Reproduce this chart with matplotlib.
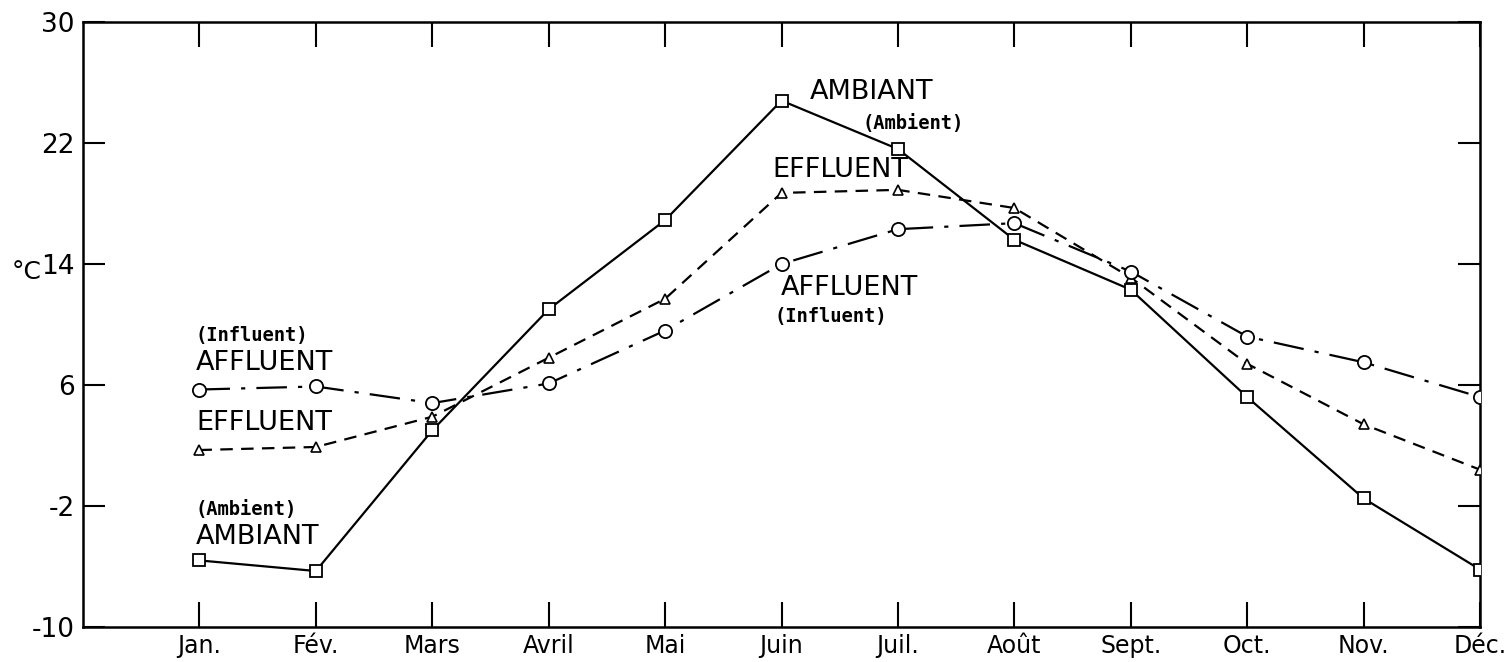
import matplotlib
matplotlib.use("Agg")
import matplotlib.pyplot as plt

months = ["Jan.", "Fév.", "Mars", "Avril", "Mai", "Juin", "Juil.", "Août", "Sept.", "Oct.", "Nov.", "Déc."]
ambiant = [-5.6, -6.3, 3.0, 11.0, 16.9, 24.8, 21.6, 15.6, 12.3, 5.2, -1.5, -6.2]
effluent = [1.7, 1.9, 3.9, 7.8, 11.7, 18.7, 18.9, 17.7, 13.1, 7.4, 3.4, 0.4]
affluent = [5.7, 5.9, 4.8, 6.1, 9.6, 14.0, 16.3, 16.7, 13.5, 9.2, 7.5, 5.2]
yticks = [-10, -2, 6, 14, 22, 30]
ytick_labels = ["-10", "-2", "6", "14", "22", "30"]

plt.rcParams['lines.scale_dashes'] = False
fig = plt.figure(figsize=(15.07, 6.62), dpi=100)
ax = fig.add_axes([0.0551, 0.0529, 0.9821 - 0.0551, 0.9668 - 0.0529])

x = list(range(len(months)))
lw = 1.6
ax.plot(x, ambiant, color='black', lw=lw, linestyle='-', marker='s', markersize=8,
        markerfacecolor='white', markeredgecolor='black', markeredgewidth=1.3, zorder=3)
ax.plot(x, effluent, color='black', lw=lw, linestyle=(0, (9, 6)), marker='^', markersize=7.5,
        markerfacecolor='white', markeredgecolor='black', markeredgewidth=1.2, zorder=3)
ax.plot(x, affluent, color='black', lw=lw, linestyle=(0, (22, 8, 3, 8)), marker='o', markersize=9.5,
        markerfacecolor='white', markeredgecolor='black', markeredgewidth=1.3, zorder=3)

ax.set_xlim(-1, 11)
ax.set_ylim(-10, 30)
ax.set_xticks(x)
ax.set_xticklabels(months, fontsize=17, family='DejaVu Sans')
ax.set_yticks(yticks)
ax.set_yticklabels(ytick_labels, fontsize=19, family='DejaVu Sans')
ax.tick_params(axis='both', direction='in', length=18, width=1.5, colors='black')
ax.tick_params(axis='x', pad=5, top=True, bottom=True)
ax.tick_params(axis='y', pad=6, left=True, right=True, length=16)
for s in ax.spines.values():
    s.set_linewidth(1.8)

fig.text(0.008, (662 - 272) / 662, "°C", fontsize=18, va='center', ha='left')

sans = dict(fontsize=19.5, family='DejaVu Sans', color='black')
mono = dict(fontsize=13.5, family='DejaVu Sans Mono', fontweight='bold', color='black')

def px(xp, yp):
    return (xp / 1507, (662 - yp) / 662)

def label(xp, yp, s, style):
    fig.text(*px(xp, yp), s, ha='left', va='center', **style)

label(196, 335, "(Influent)", mono)
label(196, 363, "AFFLUENT", sans)
label(196, 423, "EFFLUENT", sans)
label(196, 510, "(Ambient)", mono)
label(196, 537, "AMBIANT", sans)
label(810, 92, "AMBIANT", sans)
label(863, 124, "(Ambient)", mono)
label(772, 170, "EFFLUENT", sans)
label(781, 288, "AFFLUENT", sans)
label(775, 317, "(Influent)", mono)

fig.savefig("out.png", dpi=100)
